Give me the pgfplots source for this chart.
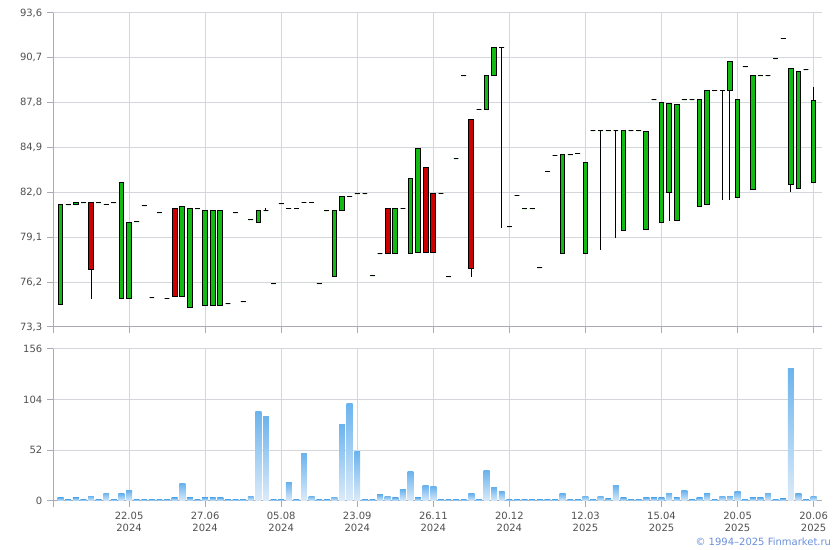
\documentclass[border=0pt]{standalone}
\usepackage{pgfplots}
\pgfplotsset{compat=1.18}
\usepackage{pgfplotstable}
\usepgfplotslibrary{statistics}
\usepackage{fontspec}
\setmainfont{DejaVu Sans}
\definecolor{cg}{HTML}{11BB11}
\definecolor{cr}{HTML}{CC0000}
\definecolor{gridc}{HTML}{D3D7DB}
\definecolor{axisc}{HTML}{A8AAB8}
\definecolor{labc}{HTML}{505050}
\definecolor{volt}{HTML}{6CB4EE}
\definecolor{volb}{HTML}{DCEBF9}
\definecolor{copyc}{HTML}{6A8FDA}

\pgfplotstableread{
i bot top lo hi c
0 74.74 81.19 74.74 81.19 cg
1 81.19 81.19 81.19 81.19 cg
2 81.19 81.32 81.19 81.32 cg
3 81.32 81.32 81.32 81.32 cg
4 77.02 81.32 75.13 81.32 cr
5 81.32 81.32 81.32 81.32 cg
6 81.25 81.25 81.25 81.25 cg
7 81.32 81.32 81.32 81.32 cg
8 75.13 82.61 75.13 82.61 cg
9 75.13 80.03 75.13 80.09 cg
10 80.09 80.09 80.09 80.09 cg
11 81.14 81.14 81.14 81.14 cg
12 75.20 75.20 75.20 75.20 cg
13 80.67 80.67 80.67 80.67 cg
14 75.15 75.15 75.15 75.15 cg
15 75.24 80.93 75.24 80.93 cr
16 75.24 81.12 75.24 81.12 cg
17 74.57 80.93 74.57 80.93 cg
18 80.93 80.93 80.93 80.93 cg
19 74.72 80.80 74.72 80.80 cg
20 74.72 80.80 74.72 80.80 cg
21 74.72 80.80 74.72 80.80 cg
22 74.81 74.81 74.81 74.81 cg
23 80.67 80.67 80.67 80.67 cg
24 74.94 74.94 74.94 74.94 cg
25 80.22 80.22 80.22 80.22 cg
26 80.03 80.80 80.03 80.80 cg
27 80.82 80.82 80.82 81.00 cg
28 76.10 76.10 76.10 76.10 cg
29 81.27 81.27 81.27 81.27 cg
30 80.99 80.99 80.99 80.99 cg
31 80.99 80.99 80.99 80.99 cg
32 81.38 81.38 81.38 81.38 cg
33 81.38 81.38 81.38 81.38 cg
34 76.10 76.10 76.10 76.10 cg
35 80.80 80.80 80.80 80.80 cg
36 76.55 80.80 76.55 80.80 cg
37 80.86 81.74 80.86 81.74 cg
38 81.74 81.74 81.74 81.74 cg
39 81.90 81.90 81.90 81.90 cg
40 81.90 81.90 81.90 81.90 cg
41 76.61 76.61 76.61 76.61 cg
42 78.03 78.03 78.03 78.03 cg
43 78.03 80.97 78.03 80.97 cr
44 78.03 80.97 78.03 80.97 cg
45 80.97 80.97 80.97 80.97 cg
46 78.03 82.93 78.03 82.93 cg
47 78.09 84.86 78.09 84.86 cg
48 78.09 83.64 78.09 83.64 cr
49 78.09 81.96 78.09 81.96 cr
50 81.96 81.96 81.96 81.96 cg
51 76.55 76.55 76.55 76.55 cg
52 84.17 84.17 84.17 84.17 cg
53 89.54 89.54 89.54 89.54 cg
54 77.06 86.73 76.55 86.73 cr
55 87.37 87.37 87.37 87.37 cg
56 87.37 89.54 87.37 89.54 cg
57 89.54 91.37 89.54 91.37 cg
58 91.37 91.37 79.68 91.37 cg
59 79.77 79.77 79.77 79.77 cg
60 81.83 81.83 81.83 81.83 cg
61 80.93 80.93 80.93 80.93 cg
62 80.93 80.93 80.93 80.93 cg
63 77.13 77.13 77.13 77.13 cg
64 83.38 83.38 83.38 83.38 cg
65 84.41 84.41 84.41 84.41 cg
66 78.03 84.45 78.03 84.45 cg
67 84.45 84.45 84.45 84.45 cg
68 84.54 84.54 84.54 84.54 cg
69 78.03 83.96 78.03 83.96 cg
70 85.99 85.99 85.99 85.99 cg
71 85.99 85.99 78.26 85.99 cg
72 85.99 85.99 85.99 85.99 cg
73 85.99 85.99 79.04 85.99 cg
74 79.51 85.99 79.51 85.99 cg
75 85.99 85.99 85.99 85.99 cg
76 85.99 85.99 85.99 85.99 cg
77 79.58 85.92 79.58 85.92 cg
78 87.99 87.99 87.99 87.99 cg
79 80.03 87.80 80.03 87.80 cg
80 82.00 87.74 80.13 87.74 cg
81 80.16 87.67 80.16 87.67 cg
82 87.99 87.99 87.99 87.99 cg
83 87.99 87.99 87.99 87.99 cg
84 81.06 87.99 81.06 87.99 cg
85 81.25 88.60 81.25 88.60 cg
86 88.60 88.60 88.60 88.60 cg
87 88.60 88.60 81.48 88.60 cg
88 88.60 90.44 81.48 90.44 cg
89 81.64 87.99 81.64 87.99 cg
90 90.12 90.12 90.12 90.12 cg
91 82.22 89.54 82.22 89.54 cg
92 89.54 89.54 89.54 89.54 cg
93 89.54 89.54 89.54 89.54 cg
94 90.63 90.63 90.63 90.63 cg
95 91.98 91.98 91.98 91.98 cg
96 82.52 89.99 82.00 89.99 cg
97 82.28 89.80 82.28 89.80 cg
98 89.93 89.93 89.93 89.93 cg
99 82.61 87.93 82.61 88.80 cg
}\candles

\pgfplotstableread{
i v
0 3.1
1 1.6
2 3.1
3 1.6
4 5.1
5 1.6
6 8.2
7 1.6
8 7.2
9 10.3
10 1.6
11 1.6
12 1.6
13 1.6
14 1.6
15 3.1
16 17.5
17 3.1
18 1.6
19 3.1
20 3.1
21 3.1
22 1.6
23 1.6
24 1.6
25 5.1
26 91.6
27 86.4
28 1.6
29 1.6
30 18.5
31 1.6
32 48.3
33 5.1
34 1.6
35 1.6
36 4.1
37 78.2
38 99.8
39 50.4
40 1.6
41 1.6
42 6.2
43 5.1
44 3.1
45 11.3
46 29.8
47 3.1
48 15.4
49 14.4
50 1.6
51 1.6
52 1.6
53 1.6
54 7.2
55 1.6
56 30.9
57 13.4
58 9.3
59 1.6
60 1.6
61 1.6
62 1.6
63 1.6
64 1.6
65 1.6
66 7.2
67 1.6
68 1.6
69 5.1
70 1.6
71 5.1
72 2.2
73 15.4
74 3.1
75 1.6
76 1.6
77 3.1
78 3.1
79 3.1
80 8.2
81 3.1
82 10.3
83 1.6
84 3.1
85 7.2
86 1.6
87 5.1
88 5.1
89 9.3
90 1.6
91 3.1
92 3.1
93 8.2
94 1.6
95 2.2
96 135.8
97 7.2
98 1.6
99 5.1
}\vols

\pgfplotsset{
  finstyle/.style={
    scale only axis, width=576.75pt, xmin=-1, xmax=100.1,
    axis lines*=left, axis line style={axisc, line width=0.75pt},
    grid=major, grid style={gridc, line width=0.75pt},
    tick align=outside, major tick length=4.5pt,
    tick style={axisc, line width=0.75pt},
    xtick={9,19,...,99},
    extra x ticks={-1}, extra x tick labels={}, extra x tick style={grid=none},
    ticklabel style={font=\fontsize{7.5}{9.5}\selectfont, text=labc},
    /pgf/number format/assume math mode=true,
  }
}

\begin{document}
\begin{tikzpicture}
\path[use as bounding box] (0,0) rectangle (630pt,412.5pt);
\begin{axis}[finstyle, at={(39.75pt,167.25pt)}, anchor=south west,
  height=235.5pt, ymin=73.3, ymax=93.6,
  ytick={73.3,76.2,79.1,82.0,84.9,87.8,90.7,93.6},
  yticklabel style={/pgf/number format/fixed, /pgf/number format/fixed zerofill,
    /pgf/number format/precision=1, /pgf/number format/use comma},
  xticklabels={}, boxplot/draw direction=y]
\pgfplotsinvokeforeach{0,...,99}{
  \pgfplotstablegetelem{#1}{c}\of\candles
  \colorlet{cand#1}{\pgfplotsretval}
  \pgfplotstablegetelem{#1}{bot}\of\candles \let\cBot\pgfplotsretval
  \pgfplotstablegetelem{#1}{top}\of\candles \let\cTop\pgfplotsretval
  \pgfplotstablegetelem{#1}{lo}\of\candles \let\cLo\pgfplotsretval
  \pgfplotstablegetelem{#1}{hi}\of\candles \let\cHi\pgfplotsretval
  \edef\tmpplot{\noexpand\addplot[draw=black, line width=0.75pt, fill=cand#1,
    boxplot prepared={lower whisker=\cLo, upper whisker=\cHi,
      lower quartile=\cBot, upper quartile=\cTop, median=\cTop,
      draw position=#1, box extend=0.62, whisker extend=0}] coordinates {};}
  \tmpplot
}
\end{axis}
\begin{axis}[finstyle, at={(39.75pt,36.75pt)}, anchor=south west,
  height=114pt, ymin=0, ymax=156, ytick={0,52,104,156},
  ybar, bar width=0.78, bar shift=0pt,
  xticklabels={{22.05\\2024},{27.06\\2024},{05.08\\2024},{23.09\\2024},{26.11\\2024},{20.12\\2024},{12.03\\2025},{15.04\\2025},{20.05\\2025},{20.06\\2025}},
  xticklabel style={align=center}]
\pgfplotsinvokeforeach{0,...,99}{
  \pgfplotstablegetelem{#1}{v}\of\vols \let\cVol\pgfplotsretval
  \edef\tmpplot{\noexpand\addplot[draw=none, bar shift=0pt, top color=volt, bottom color=volb] coordinates {(#1,\cVol)};}
  \tmpplot
}
\end{axis}
\node[anchor=base east, text=copyc, font=\fontsize{7.5}{9}\selectfont, inner sep=0pt] at (623.5pt,3pt) {© 1994–2025 Finmarket.ru};
\end{tikzpicture}
\end{document}
